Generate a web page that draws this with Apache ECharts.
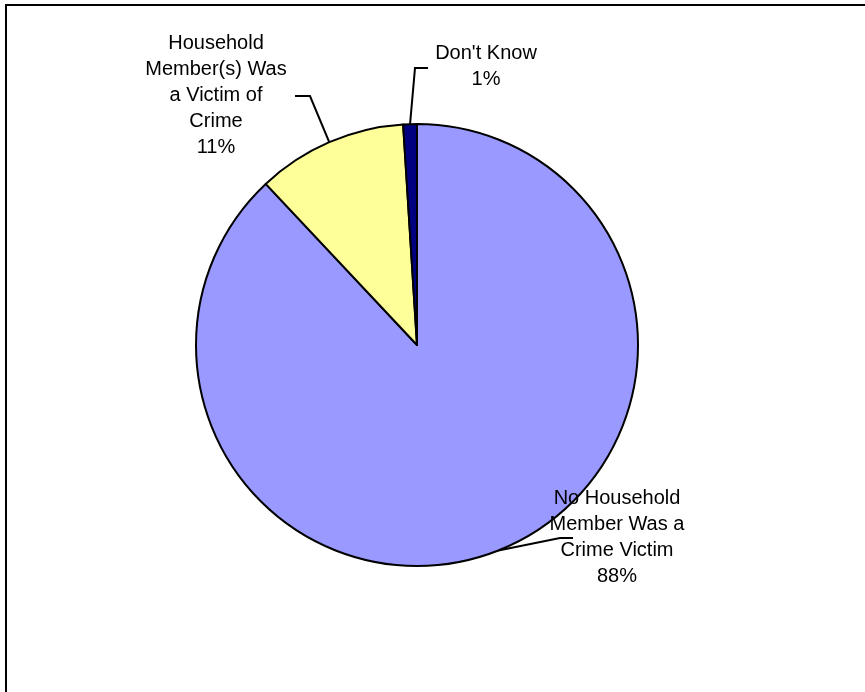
<!DOCTYPE html>
<html>
<head>
<meta charset="utf-8">
<script src="https://cdn.jsdelivr.net/npm/echarts@6/dist/echarts.min.js"></script>
<style>html,body{margin:0;padding:0;background:#fff;}#c{width:865px;height:692px;}</style>
</head>
<body>
<div id="c"></div>
<script>
const categories = ["No Household\nMember Was a\nCrime Victim", "Household\nMember(s) Was\na Victim of\nCrime", "Don't Know"];
const values = [88, 11, 1];
const colors = ["#9999FF", "#FFFF99", "#000080"];

const CX = 417, CY = 345, R = 221;
// label anchor (center of text block) and elbow offsets
const labelPos = [
  {x: 617, y: 537, elbow: [-57, 1], end: [-44, 1]},
  {x: 216, y: 95, elbow: [94, 1], end: [79, 1]},
  {x: 486, y: 66, elbow: [-71, 2], end: [-58, 2]}
];

const total = values.reduce((a, b) => a + b, 0);
function midEdge(i) {
  let cum = 0;
  for (let k = 0; k < i; k++) cum += values[k];
  const a = (cum + values[i] / 2) / total * 2 * Math.PI;
  return [CX + R * Math.sin(a), CY - R * Math.cos(a)];
}

const chart = echarts.init(document.getElementById('c'));
chart.setOption({
  animation: false,
  backgroundColor: '#fff',
  graphic: [{
    type: 'rect', shape: {x: 6, y: 5, width: 900, height: 900},
    style: {fill: 'none', stroke: '#000', lineWidth: 2}, z: 100
  }],
  series: [{
    type: 'pie',
    center: [CX, CY],
    radius: R,
    startAngle: 90,
    clockwise: true,
    data: categories.map((c, i) => ({name: c, value: values[i], itemStyle: {color: colors[i]}})),
    itemStyle: {borderColor: '#000', borderWidth: 2},
    label: {
      show: true,
      position: 'outside',
      formatter: p => p.name + '\n' + Math.round(p.value / total * 100) + '%',
      color: '#000',
      fontFamily: 'Liberation Sans, Arial, sans-serif',
      fontSize: 20,
      lineHeight: 26,
      align: 'center'
    },
    labelLine: {show: true, lineStyle: {color: '#000', width: 2}, smooth: false},
    labelLayout: function (params) {
      const i = params.dataIndex;
      const lp = labelPos[i];
      const s = midEdge(i);
      return {
        x: lp.x, y: lp.y, align: 'center', verticalAlign: 'middle',
        labelLinePoints: [s, [lp.x + lp.elbow[0], lp.y + lp.elbow[1]], [lp.x + lp.end[0], lp.y + lp.end[1]]]
      };
    },
    emphasis: {disabled: true}
  }]
});
</script>
</body>
</html>
